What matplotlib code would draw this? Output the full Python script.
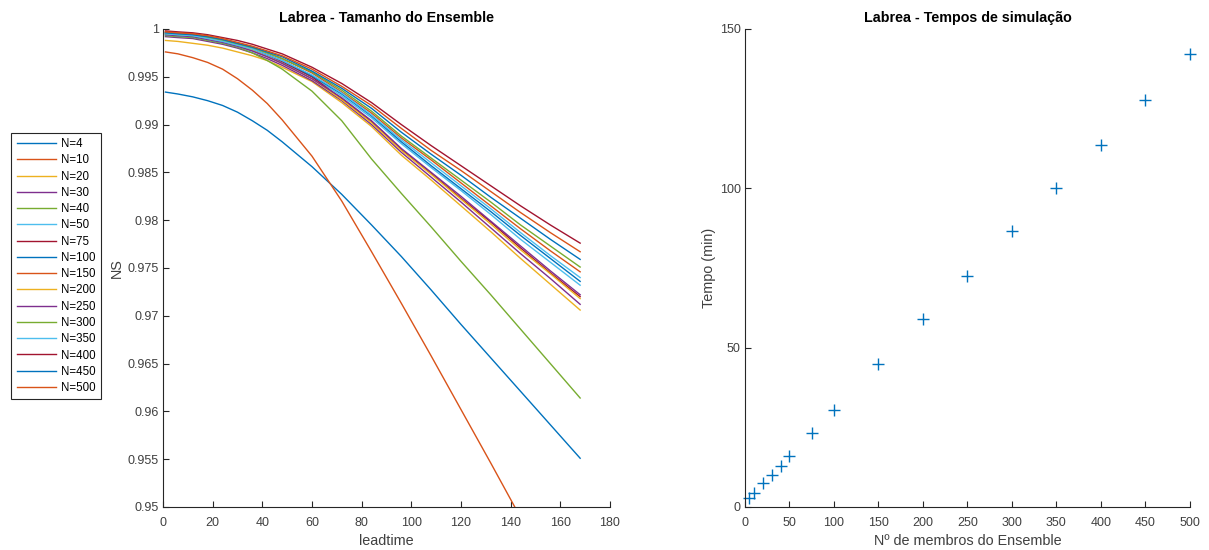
import matplotlib
matplotlib.use("Agg")
import matplotlib.pyplot as plt
import numpy as np

plt.rcParams['font.family'] = ['Liberation Sans', 'DejaVu Sans']

# ensemble sizes and leadtimes
n_members = [4, 10, 20, 30, 40, 50, 75, 100, 150, 200, 250, 300, 350, 400, 450, 500]
leadtime = [1, 6, 12, 18, 24, 30, 36, 42, 48, 60, 72, 84, 96, 108, 120, 132, 144, 156, 168]

# NS per leadtime for each ensemble size
ns_4 = [.9934, .9932, .9929, .9925, .9920, .9913, .9904, .9894, .9882, .9856, .9827, .9795, .9762, .9727, .9691, .9656, .9621, .9586, .9551]
ns_10 = [.9976, .9974, .9970, .9965, .9958, .9948, .9936, .9922, .9905, .9867, .9820, .9767, .9713, .9658, .9602, .9546, .9489, .9432, .9375]
ns_20 = [.9988, .9987, .9985, .9983, .9980, .9976, .9972, .9967, .9960, .9945, .9923, .9898, .9868, .9842, .9815, .9788, .9760, .9733, .9706]
ns_30 = [.9992, .9991, .9990, .9987, .9984, .9980, .9975, .9969, .9962, .9946, .9925, .9900, .9871, .9845, .9819, .9792, .9765, .9739, .9712]
ns_40 = [.9993, .9992, .9991, .9988, .9985, .9981, .9975, .9967, .9958, .9935, .9904, .9864, .9828, .9793, .9757, .9722, .9686, .9650, .9614]
ns_50 = [.9994, .9993, .9992, .9989, .9986, .9982, .9977, .9971, .9965, .9950, .9930, .9907, .9880, .9855, .9831, .9806, .9780, .9756, .9732]
ns_75 = [.9996, .9995, .9994, .9991, .9988, .9984, .9979, .9973, .9966, .9950, .9927, .9903, .9874, .9849, .9823, .9798, .9771, .9745, .9720]
ns_100 = [.9996, .9995, .9994, .9991, .9988, .9984, .9979, .9973, .9967, .9951, .9932, .9909, .9882, .9857, .9833, .9809, .9784, .9760, .9736]
ns_150 = [.9997, .9996, .9995, .9992, .9989, .9985, .9981, .9975, .9969, .9954, .9934, .9912, .9886, .9863, .9839, .9815, .9791, .9768, .9746]
ns_200 = [.9995, .9994, .9993, .9990, .9987, .9983, .9978, .9971, .9964, .9948, .9926, .9902, .9873, .9848, .9822, .9796, .9769, .9744, .9718]
ns_250 = [.9994, .9993, .9992, .9989, .9986, .9982, .9977, .9971, .9964, .9948, .9928, .9904, .9875, .9850, .9825, .9799, .9773, .9747, .9722]
ns_300 = [.9995, .9994, .9993, .9991, .9988, .9984, .9980, .9975, .9969, .9955, .9936, .9914, .9888, .9865, .9842, .9819, .9795, .9773, .9751]
ns_350 = [.9995, .9994, .9993, .9990, .9987, .9983, .9979, .9973, .9967, .9952, .9933, .9910, .9884, .9860, .9836, .9812, .9787, .9763, .9740]
ns_400 = [.9998, .9997, .9996, .9994, .9991, .9988, .9984, .9979, .9974, .9960, .9943, .9923, .9900, .9878, .9857, .9836, .9815, .9795, .9776]
ns_450 = [.9996, .9995, .9994, .9992, .9989, .9985, .9981, .9976, .9971, .9956, .9938, .9917, .9892, .9869, .9847, .9824, .9802, .9780, .9759]
ns_500 = [.9997, .9996, .9995, .9993, .9990, .9986, .9982, .9977, .9972, .9958, .9940, .9920, .9896, .9873, .9852, .9830, .9808, .9787, .9767]

ns_all = [ns_4, ns_10, ns_20, ns_30, ns_40, ns_50, ns_75, ns_100, ns_150, ns_200,
          ns_250, ns_300, ns_350, ns_400, ns_450, ns_500]

# simulation time (min) per ensemble size
tempo = [2.7, 4.4, 7.4, 10.1, 13.0, 15.9, 23.3, 30.5, 44.8, 59.1, 72.4, 86.6, 100.0, 113.7, 127.6, 142.1]

# matlab default colour order
cores = ['#0072BD', '#D95319', '#EDB120', '#7E2F8E', '#77AC30', '#4DBEEE', '#A2142F']
cinza = '#262626'
cinza_txt = '#404040'

fig = plt.figure(figsize=(12.09, 5.5), dpi=100)
ax1 = fig.add_axes([0.1348, 0.0782, 0.3697, 0.8691])
ax2 = fig.add_axes([0.6162, 0.0782, 0.3680, 0.8691])

for i, (n, ns) in enumerate(zip(n_members, ns_all)):
    ax1.plot(leadtime, ns, color=cores[i % 7], lw=1.0, label="N=%d" % n)

ax1.set_xlim(0, 180)
ax1.set_ylim(0.95, 1)
ax1.set_xticks(np.arange(0, 181, 20))
yt = np.arange(0.95, 1.0001, 0.005)
ax1.set_yticks(yt)
ax1.set_yticklabels(["%g" % round(v, 3) for v in yt])
ax1.set_xlabel("leadtime", fontsize=10.4, color=cinza_txt, labelpad=4)
ax1.set_ylabel("NS", fontsize=10.4, color=cinza_txt, labelpad=3)
ax1.set_title("Labrea - Tamanho do Ensemble", fontsize=10.3, fontweight='bold', pad=5)

leg = ax1.legend(loc='center right', bbox_to_anchor=(-0.139, 0.504), fontsize=8.3,
                 fancybox=False, framealpha=1, edgecolor=cinza, handlelength=3.4,
                 labelspacing=0.37, borderpad=0.45, handletextpad=0.45,
                 borderaxespad=0)
leg.get_frame().set_linewidth(0.8)

ax2.plot(n_members, tempo, '+', color='#0072BD', markersize=8, mew=1.0, clip_on=False)
ax2.set_xlim(0, 500)
ax2.set_ylim(0, 150)
ax2.set_xticks(np.arange(0, 501, 50))
ax2.set_yticks([0, 50, 100, 150])
ax2.set_xlabel("Nº de membros do Ensemble", fontsize=10.4, color=cinza_txt, labelpad=4)
ax2.set_ylabel("Tempo (min)", fontsize=10.4, color=cinza_txt, labelpad=3)
ax2.set_title("Labrea - Tempos de simulação", fontsize=10.3, fontweight='bold', pad=5)

for ax in (ax1, ax2):
    ax.spines['top'].set_visible(False)
    ax.spines['right'].set_visible(False)
    for s in ('left', 'bottom'):
        ax.spines[s].set_color(cinza)
        ax.spines[s].set_linewidth(0.8)
    ax.tick_params(direction='in', length=4, width=0.8, colors=cinza, labelcolor=cinza_txt,
                   labelsize=9, pad=3)
    ax.tick_params(axis='x', pad=7)

fig.savefig("out.png", dpi=100)
